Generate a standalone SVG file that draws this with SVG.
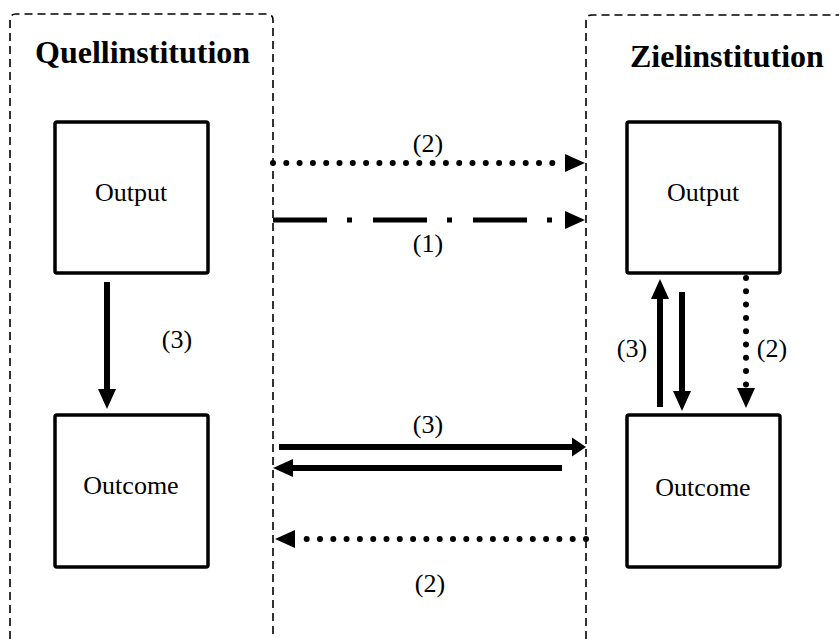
<svg xmlns="http://www.w3.org/2000/svg" width="839" height="639" viewBox="0 0 839 639">
<style>
.cont{fill:none;stroke:#000;stroke-width:1.6;stroke-dasharray:8 5}
.box{fill:#fff;stroke:#000;stroke-width:3.5}
.title{font-family:'Liberation Serif','Times New Roman',Times,serif;font-weight:bold;font-size:32px;fill:#000}
.lbl{font-family:'Liberation Serif','Times New Roman',Times,serif;font-size:26px;fill:#000;text-anchor:middle}
.solid{fill:none;stroke:#000;stroke-width:6}
.dot{fill:none;stroke:#000;stroke-width:6;stroke-linecap:round;stroke-dasharray:0 13.3}
.dashdot{fill:none;stroke:#000;stroke-width:5;stroke-dasharray:54 20 5 21}
</style>
<defs>
<marker id="ah" markerUnits="userSpaceOnUse" markerWidth="20" markerHeight="18" refX="0" refY="9" orient="auto" overflow="visible">
<path d="M0,0 L20,9 L0,18 Z" fill="#000"/>
</marker>
<marker id="ahs" markerUnits="userSpaceOnUse" markerWidth="14" markerHeight="19" refX="0" refY="9.5" orient="auto" overflow="visible">
<path d="M0,0 L14,9.5 L0,19 Z" fill="#000"/>
</marker>
</defs>
<rect width="839" height="639" fill="#fff"/>
<g id="quellinstitution">
<path class="cont" d="M10,639 V20 Q10,14 16,14 H267 Q273,14 273,20 V639"/>
<text class="title" x="35" y="63">Quellinstitution</text>
</g>
<g id="zielinstitution">
<path class="cont" d="M586,639 V21 Q586,15 592,15 H845"/>
<text class="title" x="630" y="67">Zielinstitution</text>
</g>
<g id="q-output">
<rect class="box" x="55" y="122" width="153" height="151" rx="2"/>
<text class="lbl" x="131" y="201">Output</text>
</g>
<g id="q-outcome">
<rect class="box" x="55" y="415" width="153" height="152" rx="2"/>
<text class="lbl" x="131" y="494">Outcome</text>
</g>
<g id="z-output">
<rect class="box" x="627" y="122" width="153" height="151" rx="2"/>
<text class="lbl" x="703" y="201">Output</text>
</g>
<g id="z-outcome">
<rect class="box" x="627" y="415" width="153" height="152" rx="2"/>
<text class="lbl" x="703" y="496">Outcome</text>
</g>
<g id="connectors">
<line class="dot" x1="273" y1="163" x2="565" y2="163" marker-end="url(#ah)"/>
<line class="dashdot" x1="273" y1="220" x2="565" y2="220" marker-end="url(#ah)"/>
<line class="solid" x1="107" y1="282" x2="107" y2="389" marker-end="url(#ah)"/>
<line class="solid" x1="279" y1="447" x2="572" y2="447" marker-end="url(#ahs)"/>
<line class="solid" x1="562" y1="468" x2="293" y2="468" marker-end="url(#ah)"/>
<line class="dot" x1="586" y1="539" x2="295" y2="539" marker-end="url(#ah)"/>
<line class="solid" x1="660" y1="407" x2="660" y2="299" marker-end="url(#ah)"/>
<line class="solid" x1="682" y1="292" x2="682" y2="391" marker-end="url(#ah)"/>
<line class="dot" x1="746" y1="278" x2="746" y2="388" marker-end="url(#ah)"/>
<text class="lbl" x="428" y="152">(2)</text>
<text class="lbl" x="428" y="252">(1)</text>
<text class="lbl" x="177" y="348">(3)</text>
<text class="lbl" x="428" y="433">(3)</text>
<text class="lbl" x="430" y="592">(2)</text>
<text class="lbl" x="632" y="357">(3)</text>
<text class="lbl" x="772" y="357">(2)</text>
</g>
</svg>
